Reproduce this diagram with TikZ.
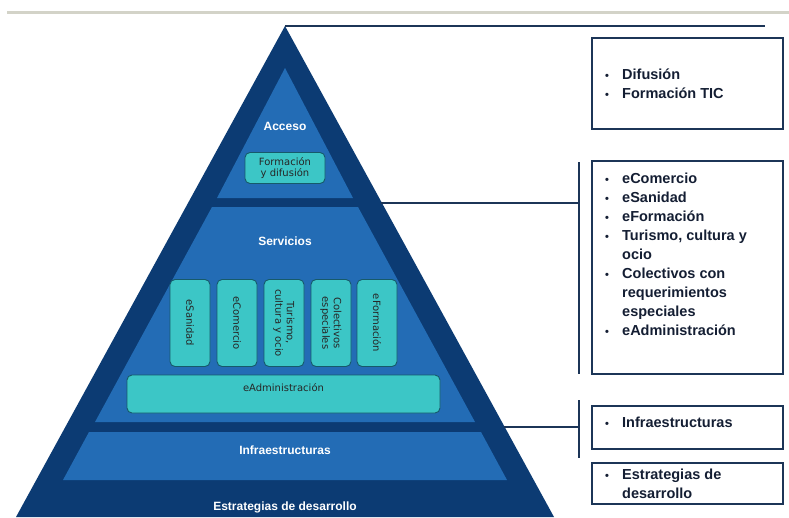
\documentclass[tikz,border=0pt]{standalone}
\usepackage{fontspec}
\setmainfont{Liberation Sans}
\newfontfamily\smallboxfont{DejaVu Sans}
\usetikzlibrary{positioning, calc}

\definecolor{pyrdark}{HTML}{0C3B73}
\definecolor{pyrlight}{HTML}{236CB5}
\definecolor{turq}{HTML}{3CC6C6}
\definecolor{turqedge}{HTML}{165A6A}
\definecolor{navy}{HTML}{1C3557}
\definecolor{listtext}{HTML}{141E33}
\definecolor{rulegray}{HTML}{D3D3C8}

\newcommand{\pbul}{\makebox[17pt][l]{\fontsize{11}{11}\selectfont\textbullet}}

\begin{document}
\begin{tikzpicture}[
        x=1pt, y=-1pt,
        tier/.style={font=\bfseries\fontsize{12}{14}\selectfont, text=white, inner sep=1pt},
        subbox/.style={draw=turqedge, fill=turq, rounded corners=5pt, line width=0.9pt, align=center, font=\smallboxfont\fontsize{10}{11.5}\selectfont, text=black!85, inner sep=1pt},
        listframe/.style={draw=navy, line width=1.8pt, minimum width=191pt, anchor=north west, inner sep=0pt},
        itemlist/.style={align=left, font=\bfseries\fontsize{14.5}{19}\selectfont, text=listtext, inner sep=0pt},
        connector/.style={draw=navy, line width=2pt},
        bracketline/.style={draw=navy, line width=2.5pt}
    ]

    % Hintergrund und Rahmen
    \fill[white] (0,0) rectangle (789,517);
    \useasboundingbox (0,0) rectangle (789,517);
    \draw[rulegray, line width=3pt] (7,12.5) -- (789,12.5);

    % Pyramide
    \fill[pyrdark] (285,26) -- (16,517) -- (554,517) -- cycle;
    \fill[pyrlight] (285,68) -- (217,198) -- (353,198) -- cycle;
    \fill[pyrlight] (212,207) -- (358,207) -- (475,422) -- (95,422) -- cycle;
    \fill[pyrlight] (89,432) -- (481,432) -- (507,480) -- (63,480) -- cycle;

    % Ebenen
    \node[tier] (acceso) at (285,126) {Acceso};
    \node[tier] (servicios) at (285,241) {Servicios};
    \node[tier] (infra) at (285,450) {Infraestructuras};
    \node[tier] (estrategias) at (285,507) {Estrategias de desarrollo};

    % Bausteine
    \node[subbox, minimum width=80pt, minimum height=31pt] (formdif) at (285,168) {Formación\\y difusión};
    \node[subbox, rotate=-90, minimum width=87pt, minimum height=40pt] (esanidad) at (190,323) {eSanidad};
    \node[subbox, rotate=-90, minimum width=87pt, minimum height=40pt] (ecomercio) at (237,323) {eComercio};
    \node[subbox, rotate=-90, minimum width=87pt, minimum height=40pt] (turismo) at (284,323) {Turismo,\\cultura y ocio};
    \node[subbox, rotate=-90, minimum width=87pt, minimum height=40pt] (colectivos) at (331,323) {Colectivos\\especiales};
    \node[subbox, rotate=-90, minimum width=87pt, minimum height=40pt] (eformacion) at (377,323) {eFormación};
    \node[subbox, minimum width=313pt, minimum height=38pt] (eadmin) at (283.5,394) {};
    \node[font=\smallboxfont\fontsize{10}{11.5}\selectfont, text=black!85, inner sep=0pt] (eadmin_text) at ([yshift=6pt]eadmin.center) {eAdministración};

    % Rechte Kästen
    \node[listframe, minimum height=91pt] (difusion_box) at (591,37) {};
    \node[listframe, minimum height=213pt] (servicios_box) at (591,160) {};
    \node[listframe, minimum height=43pt] (infra_box) at (591,405) {};
    \node[listframe, minimum height=41pt] (estrategias_box) at (591,462) {};

    \node[itemlist, anchor=west] (difusion_list) at ([xshift=14pt]difusion_box.west) {\pbul Difusión\\\pbul Formación TIC};
    \node[itemlist, anchor=north west] (servicios_list) at ([xshift=14pt,yshift=-13pt]servicios_box.north west) {\pbul eComercio\\\pbul eSanidad\\\pbul eFormación\\\pbul Turismo, cultura y\\\hspace*{17pt}ocio\\\pbul Colectivos con\\\hspace*{17pt}requerimientos\\\hspace*{17pt}especiales\\\pbul eAdministración};
    \node[itemlist, anchor=west] (infra_list) at ([xshift=14pt,yshift=5pt]infra_box.west) {\pbul Infraestructuras};
    \node[itemlist, anchor=west] (estrategias_list) at ([xshift=14pt]estrategias_box.west) {\pbul Estrategias de\\\hspace*{17pt}desarrollo};

    % Verbindungen
    \coordinate (apex) at (285,26);
    \coordinate (top_end) at (765,26);
    \draw[connector] (apex) -- (top_end);

    \coordinate (serv_edge) at (381,203);
    \coordinate (serv_top) at (579,162);
    \coordinate (serv_bot) at (579,374);
    \draw[connector] (serv_edge) -- (serv_edge -| serv_top);
    \draw[bracketline] (serv_top) -- (serv_bot);

    \coordinate (infra_edge) at (504,427);
    \coordinate (infra_top) at (579,400);
    \coordinate (infra_bot) at (579,458);
    \draw[connector] (infra_edge) -- (infra_edge -| infra_top);
    \draw[bracketline] (infra_top) -- (infra_bot);

    \end{tikzpicture}
\end{document}
